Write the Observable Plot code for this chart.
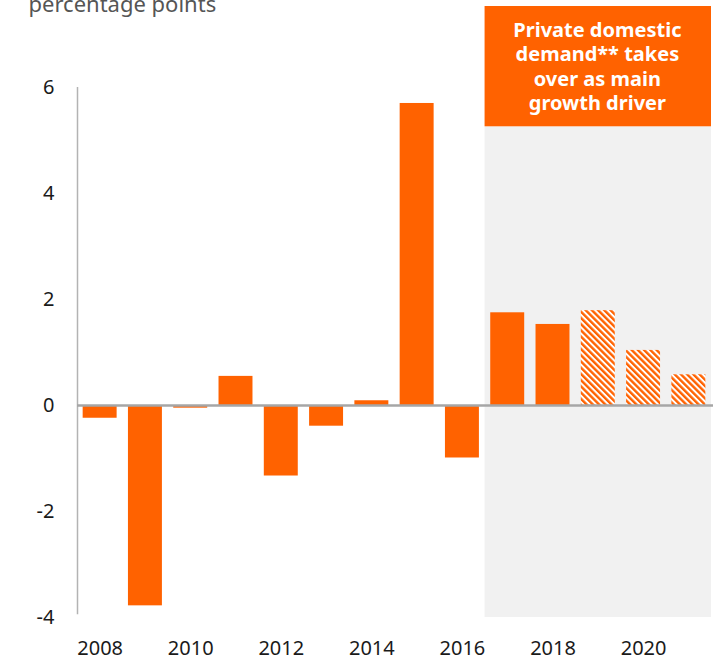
<!DOCTYPE html>
<html><head><meta charset="utf-8">
<script src="https://cdn.jsdelivr.net/npm/d3@7"></script>
<script src="https://cdn.jsdelivr.net/npm/@observablehq/plot@0.6"></script>
<style>body{margin:0;background:#fff} #chart svg{display:block}</style>
</head><body><div id="chart"></div>
<script>
const years = [2008, 2009, 2010, 2011, 2012, 2013, 2014, 2015, 2016, 2017, 2018, 2019, 2020, 2021];
const values = [-0.24, -3.78, -0.05, 0.55, -1.33, -0.39, 0.09, 5.70, -0.99, 1.75, 1.53, 1.79, 1.04, 0.58];
const forecastFrom = 2019;
const yTicks = [-4, -2, 0, 2, 4, 6];
const xTicks = [2008, 2010, 2012, 2014, 2016, 2018, 2020];
const unitLabel = "percentage points";
const annotationLines = ["Private domestic", "demand** takes", "over as main", "growth driver"];
const shadeRange = [2016.5, 2021.5];
const boxRange = [5.26, 7.53];

const orange = "#ff6200";
const data = years.map((year, i) => ({year, value: values[i]}));
const actual = data.filter(d => d.year < forecastFrom);
const forecast = data.filter(d => d.year >= forecastFrom);

const defs = () => {
  const g = d3.create("svg:defs");
  const p = g.append("pattern").attr("id", "hatch").attr("patternUnits", "userSpaceOnUse")
    .attr("width", 4.4).attr("height", 4.4).attr("patternTransform", "rotate(-45)");
  p.append("rect").attr("width", 4.4).attr("height", 4.4).attr("fill", "#fff");
  p.append("rect").attr("width", 2.4).attr("height", 4.4).attr("fill", orange);
  return g.node();
};

const plot = Plot.plot({
  width: 713,
  height: 661,
  marginTop: 6,
  marginBottom: 44,
  marginLeft: 77,
  marginRight: 2,
  style: {fontFamily: "'Noto Sans', sans-serif", fontSize: "20px", color: "#1a1a1a", background: "#fff"},
  x: {type: "linear", domain: [2007.5, 2021.5]},
  y: {domain: [-4, 7.53]},
  marks: [
    defs,
    Plot.rect([0], {x1: shadeRange[0], x2: shadeRange[1], y1: -4, y2: boxRange[0], fill: "#f1f1f1"}),
    Plot.rect([0], {x1: shadeRange[0], x2: shadeRange[1], y1: boxRange[0], y2: boxRange[1], fill: orange}),
    Plot.text([annotationLines.join("\n")], {x: 2018.98, y: 6.415, fill: "#fff", fontWeight: "bold", fontSize: 20, lineHeight: 1.23, lineAnchor: "middle", textAnchor: "middle"}),
    Plot.rectY(actual, {x1: d => d.year - 0.375, x2: d => d.year + 0.375, y1: 0, y2: "value", fill: orange}),
    Plot.rectY(forecast, {x1: d => d.year - 0.375, x2: d => d.year + 0.375, y1: 0, y2: "value", fill: "url(#hatch)"}),
    Plot.ruleX([2007.5], {y1: -3.95, y2: 6, stroke: "#b3b3b3", strokeWidth: 1.5}),
    Plot.ruleY([0], {x1: 2007.5, x2: 2021.55, stroke: "#a6a6a6", strokeWidth: 2.5}),
    Plot.axisY({ticks: yTicks, tickSize: 0, tickPadding: 23, tickFormat: d => String(d), fontSize: 20, label: null}),
    Plot.axisX({ticks: xTicks, tickSize: 0, tickPadding: 23, tickFormat: d => String(d), fontSize: 20, label: null}),
    Plot.text([unitLabel], {frameAnchor: "top-left", dx: -49, dy: 5, textAnchor: "start", lineAnchor: "bottom", fill: "#555", fontSize: 22})
  ]
});
document.getElementById("chart").appendChild(plot);
</script>
</body></html>
